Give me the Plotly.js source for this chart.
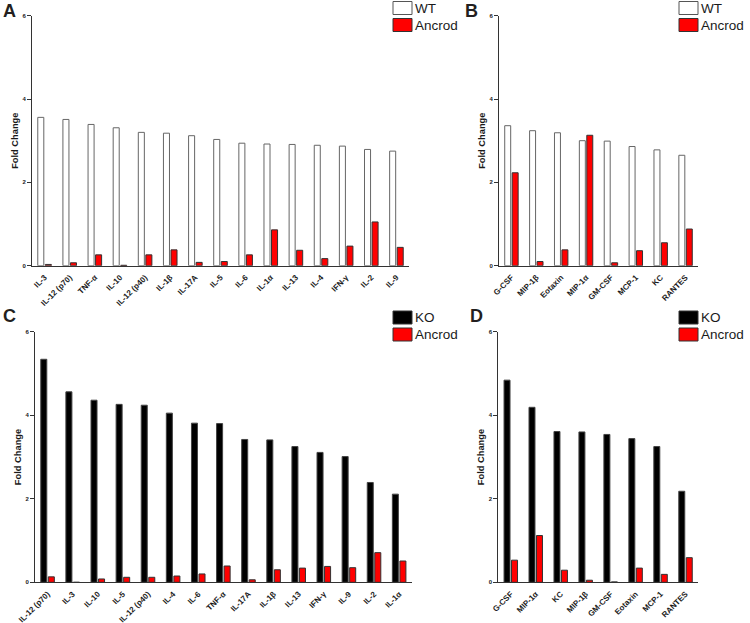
<!DOCTYPE html>
<html><head><meta charset="utf-8">
<script src="https://cdn.plot.ly/plotly-3.0.1.min.js"></script>
<style>html,body{margin:0;padding:0;background:#fff}#chart{width:750px;height:623px}</style>
</head><body><div id="chart"></div>
<script>
// Panel A: WT vs Ancrod (cytokines)
const catsA = ["IL-3","IL-12 (p70)","TNF-α","IL-10","IL-12 (p40)","IL-1β","IL-17A","IL-5","IL-6","IL-1α","IL-13","IL-4","IFN-γ","IL-2","IL-9"];
const wtA   = [3.56,3.51,3.39,3.31,3.20,3.18,3.12,3.03,2.94,2.92,2.91,2.89,2.87,2.79,2.75];
const ancA  = [0.03,0.07,0.26,0.01,0.26,0.38,0.08,0.10,0.26,0.86,0.37,0.17,0.47,1.05,0.44];
// Panel B: WT vs Ancrod (chemokines)
const catsB = ["G-CSF","MIP-1β","Eotaxin","MIP-1α","GM-CSF","MCP-1","KC","RANTES"];
const wtB   = [3.36,3.24,3.19,3.00,2.99,2.86,2.78,2.65];
const ancB  = [2.23,0.10,0.38,3.13,0.07,0.36,0.55,0.88];
// Panel C: KO vs Ancrod (cytokines)
const catsC = ["IL-12 (p70)","IL-3","IL-10","IL-5","IL-12 (p40)","IL-4","IL-6","TNF-α","IL-17A","IL-1β","IL-13","IFN-γ","IL-9","IL-2","IL-1α"];
const koC   = [5.34,4.56,4.36,4.26,4.24,4.05,3.81,3.80,3.42,3.41,3.25,3.11,3.01,2.39,2.11];
const ancC  = [0.13,0.00,0.08,0.12,0.12,0.15,0.20,0.39,0.06,0.30,0.34,0.38,0.35,0.71,0.51];
// Panel D: KO vs Ancrod (chemokines)
const catsD = ["G-CSF","MIP-1α","KC","MIP-1β","GM-CSF","Eotaxin","MCP-1","RANTES"];
const koD   = [4.84,4.19,3.61,3.60,3.54,3.44,3.25,2.18];
const ancD  = [0.53,1.12,0.29,0.05,0.01,0.34,0.19,0.59];
const yTicks = [0,2,4,6];
const panelLetters = ["A","B","C","D"];
const seriesWT = "WT", seriesKO = "KO", seriesAnc = "Ancrod";
const yTitle = "Fold Change";

const W = 750, H = 623;
const px = x => x / W, py = y => 1 - y / H;
const FONT = "Liberation Sans, Arial, sans-serif";
const INK = "#1a1a1a";

const RED = "#ff0000";
function bar(cats, vals, name, fill, line, xa, ya) {
  return {type:"bar", x:cats, y:vals, name:name, xaxis:xa, yaxis:ya, showlegend:false,
          marker:{color:fill, line:{color:line, width:1}}, hoverinfo:"x+y"};
}
const traces = [
  bar(catsA, wtA, seriesWT, "#ffffff", "#666666", "x", "y"),
  bar(catsA, ancA, seriesAnc, RED, "#333333", "x", "y"),
  bar(catsB, wtB, seriesWT, "#ffffff", "#666666", "x2", "y2"),
  bar(catsB, ancB, seriesAnc, RED, "#333333", "x2", "y2"),
  bar(catsC, koC, seriesKO, "#000000", "#444444", "x3", "y3"),
  bar(catsC, ancC, seriesAnc, RED, "#333333", "x3", "y3"),
  bar(catsD, koD, seriesKO, "#000000", "#444444", "x4", "y4"),
  bar(catsD, ancD, seriesAnc, RED, "#333333", "x4", "y4"),
];

function xax(dom, anchor, cats) {
  return {domain:dom, anchor:anchor, type:"category", categoryarray:cats, categoryorder:"array",
          showline:true, linecolor:"#333", linewidth:1, ticks:"", showgrid:false, zeroline:false,
          tickangle:-45, ticklabelstandoff:3, tickfont:{family:FONT, size:8, color:INK, weight:"bold"}, fixedrange:true};
}
function yax(dom, anchor) {
  return {domain:dom, anchor:anchor, range:[0,6], tickvals:yTicks, ticktext:yTicks.map(String),
          showline:true, linecolor:"#333", linewidth:1, ticks:"outside", ticklen:4, tickcolor:"#333",
          showgrid:false, zeroline:false, tickfont:{family:FONT, size:6, color:INK, weight:"bold"},
          title:{text:yTitle, font:{family:FONT, size:9.3, color:INK, weight:"bold"}, standoff:2},
          fixedrange:true};
}

const topDom = [py(265.7), py(15.7)];
const botDom = [py(582.3), py(331.7)];
const layout = {
  width:W, height:H, margin:{l:0,r:0,t:0,b:0}, paper_bgcolor:"#fff", plot_bgcolor:"rgba(0,0,0,0)",
  barmode:"group", bargap:0.4, bargroupgap:0.2, showlegend:false,
  font:{family:FONT, color:INK},
  xaxis: xax([px(32), px(409)], "y", catsA),
  yaxis: yax(topDom, "x"),
  xaxis2: xax([px(499), px(698)], "y2", catsB),
  yaxis2: yax(topDom, "x2"),
  xaxis3: xax([px(35), px(411.7)], "y3", catsC),
  yaxis3: yax(botDom, "x3"),
  xaxis4: xax([px(498.3), px(698)], "y4", catsD),
  yaxis4: yax(botDom, "x4"),
  shapes:[], annotations:[]
};

// panel letters
const letterPos = [[9,11],[471,11],[9,316],[476,316]];
panelLetters.forEach((L,i)=>{
  layout.annotations.push({text:L, xref:"paper", yref:"paper", x:px(letterPos[i][0]), y:py(letterPos[i][1]),
    showarrow:false, xanchor:"center", yanchor:"middle", font:{family:FONT, size:18, color:"#231f20", weight:"bold"}});
});

// legends
function legend(x0, y0, firstName, firstFill, firstLine) {
  const items = [[firstName, firstFill, firstLine, y0],[seriesAnc, RED, "#333333", y0+17]];
  items.forEach(([name, fill, line, y])=>{
    layout.shapes.push({type:"rect", xref:"paper", yref:"paper", x0:px(x0), x1:px(x0+19), y0:py(y+13), y1:py(y),
      fillcolor:fill, line:{color:line, width:1}});
    layout.annotations.push({text:name, xref:"paper", yref:"paper", x:px(x0+20), y:py(y+6.5), showarrow:false,
      xanchor:"left", yanchor:"middle", font:{family:FONT, size:13.5, color:INK}});
  });
}
legend(393, 1.5, seriesWT, "#ffffff", "#555555");
legend(679, 1.5, seriesWT, "#ffffff", "#555555");
legend(393, 311, seriesKO, "#000000", "#333333");
legend(679, 311, seriesKO, "#000000", "#333333");

Plotly.newPlot("chart", traces, layout, {staticPlot:true, displayModeBar:false});
</script></body></html>
